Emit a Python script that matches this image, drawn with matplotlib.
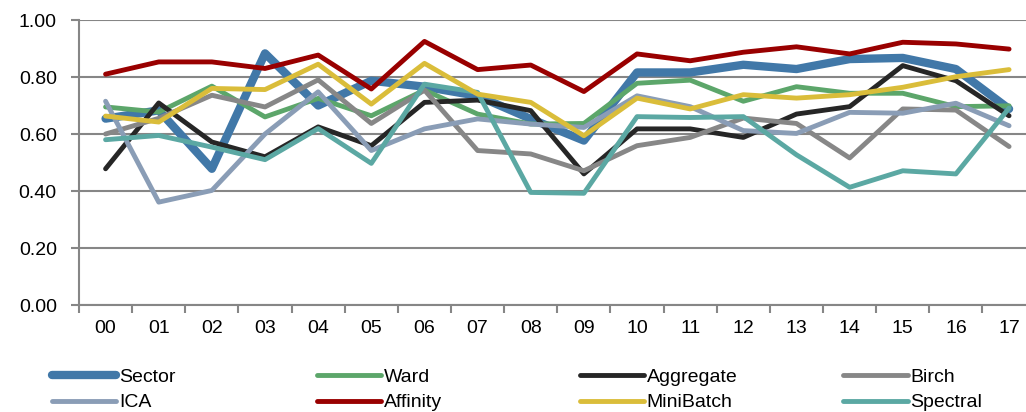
import numpy as np
import matplotlib
matplotlib.use("Agg")
import matplotlib.pyplot as plt
from matplotlib import font_manager

# Narrow face if present, else fall back
names = {f.name for f in font_manager.fontManager.ttflist}
font = "Liberation Sans Narrow" if "Liberation Sans Narrow" in names else "Liberation Sans"
plt.rcParams["font.family"] = [font, "DejaVu Sans"]

periods = ["00", "01", "02", "03", "04", "05", "06", "07", "08", "09",
           "10", "11", "12", "13", "14", "15", "16", "17"]

sector = [0.654, 0.683, 0.478, 0.883, 0.700, 0.787, 0.766, 0.734, 0.653, 0.577,
          0.816, 0.816, 0.843, 0.828, 0.863, 0.867, 0.828, 0.688]
ward = [0.695, 0.677, 0.768, 0.660, 0.725, 0.664, 0.754, 0.670, 0.635, 0.637,
        0.778, 0.789, 0.715, 0.766, 0.743, 0.743, 0.696, 0.699]
aggregate = [0.478, 0.709, 0.572, 0.520, 0.625, 0.559, 0.711, 0.719, 0.682, 0.460,
             0.618, 0.618, 0.588, 0.670, 0.696, 0.840, 0.787, 0.664]
birch = [0.600, 0.655, 0.736, 0.695, 0.790, 0.637, 0.754, 0.542, 0.530, 0.471,
         0.559, 0.588, 0.656, 0.637, 0.516, 0.688, 0.684, 0.556]
ica = [0.715, 0.361, 0.402, 0.600, 0.748, 0.542, 0.618, 0.653, 0.635, 0.623,
       0.734, 0.696, 0.612, 0.602, 0.676, 0.673, 0.708, 0.629]
affinity = [0.810, 0.853, 0.853, 0.830, 0.877, 0.758, 0.925, 0.826, 0.842, 0.749,
            0.881, 0.857, 0.887, 0.906, 0.881, 0.922, 0.916, 0.898]
minibatch = [0.663, 0.642, 0.760, 0.756, 0.845, 0.705, 0.848, 0.740, 0.711, 0.594,
             0.726, 0.688, 0.738, 0.726, 0.738, 0.764, 0.801, 0.826]
spectral = [0.580, 0.595, 0.554, 0.510, 0.619, 0.497, 0.775, 0.746, 0.395, 0.392,
            0.661, 0.658, 0.661, 0.527, 0.413, 0.471, 0.460, 0.691]

series = [
    ("Sector", sector, "#4178a8", 6.0),
    ("Ward", ward, "#5ca66a", 3.5),
    ("Aggregate", aggregate, "#262626", 3.5),
    ("Birch", birch, "#878787", 3.5),
    ("ICA", ica, "#8a9db6", 3.5),
    ("Affinity", affinity, "#990000", 3.5),
    ("MiniBatch", minibatch, "#dabd3a", 3.5),
    ("Spectral", spectral, "#5ba8a3", 3.5),
]
# draw order: later entries end up on top
z_order = {"Sector": 2, "Ward": 3, "Aggregate": 4, "Birch": 5, "ICA": 6,
           "Affinity": 8, "MiniBatch": 7, "Spectral": 6}

fig = plt.figure(figsize=(10.26, 4.12), dpi=100)
ax = fig.add_axes([0.077, 0.2597, 0.9324, 0.6917])

x = np.arange(len(periods))
handles = {}
for name, vals, color, lw in series:
    (ln,) = ax.plot(x, vals, color=color, lw=lw, label=name,
                    solid_capstyle="round", solid_joinstyle="round",
                    zorder=z_order[name])
    handles[name] = ln

grid_c = "#868686"
ax.set_ylim(0, 1.0)
ax.set_yticks(np.arange(0, 1.01, 0.2))
ax.set_yticklabels([f"{v:.2f}" for v in np.arange(0, 1.01, 0.2)])
ax.yaxis.grid(True, color=grid_c, lw=1.5)
ax.set_axisbelow(True)

ax.set_xlim(-0.5, len(periods) - 0.5)
ax.set_xticks(np.arange(-0.5, len(periods)), labels=[])
ax.set_xticks(x, minor=True)
ax.set_xticklabels(periods, minor=True)
ax.tick_params(axis="x", which="major", length=6, width=1.5, color=grid_c)
ax.tick_params(axis="x", which="minor", length=0, pad=11, labelsize=14)
ax.tick_params(axis="y", length=6, width=1.5, color=grid_c, labelsize=14, pad=10)

for s in ["top", "right"]:
    ax.spines[s].set_visible(False)
for s in ["left", "bottom"]:
    ax.spines[s].set_color(grid_c)
    ax.spines[s].set_linewidth(1.5)

# legend laid out as four two-row columns below the axes
columns = [("Sector", "ICA"), ("Ward", "Affinity"),
           ("Aggregate", "MiniBatch"), ("Birch", "Spectral")]
col_x = [0.051, 0.309, 0.565, 0.822]
for cx, pair in zip(col_x, columns):
    fig.legend([handles[n] for n in pair], list(pair), loc="upper left",
               bbox_to_anchor=(cx, 0.106), frameon=False, fontsize=14,
               handlelength=3.3, handletextpad=0.15, labelspacing=0.4,
               borderaxespad=0, borderpad=0)

fig.savefig("out.png", dpi=100)
